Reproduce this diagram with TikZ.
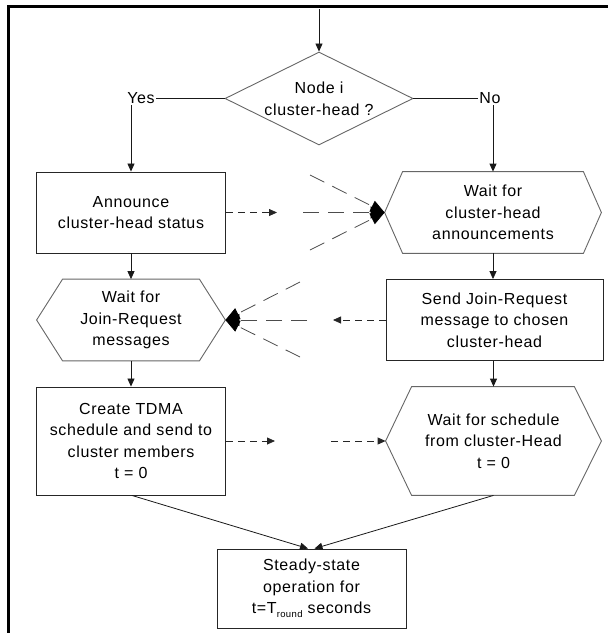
\documentclass[tikz,border=0pt]{standalone}
\usepackage{fontspec}
\setmainfont{Liberation Sans}[LetterSpace=4]
\usetikzlibrary{arrows.meta,calc,shapes.geometric}
\begin{document}
\begin{tikzpicture}[x=1pt,y=-1pt,
  font=\fontsize{16}{21.5}\selectfont,
  line width=0.8pt,
  tip/.style={-{Triangle[length=8pt,width=7pt]}},
  conn/.style={draw=black!90, tip},
  plain/.style={draw=black!90},
  box/.style={draw=black!85, line width=0.9pt, align=center, inner sep=0pt},
  hexnode/.style={align=center, inner sep=0pt},
  hexline/.style={draw=black!60, line width=0.9pt},
  dshort/.style={draw=black!85, dash pattern=on 7pt off 5pt, tip},
  dlong/.style={draw=black!70, dash pattern=on 16pt off 9pt, -{Triangle[length=14pt,width=12pt,color=black]}},
  label/.style={inner sep=1pt}]
\useasboundingbox (0,0) rectangle (608,633);
% frame
\draw[line width=3pt] (8,633) -- (8,6.2) -- (608,6.2);

% decision
\node[diamond, draw=black!60, line width=0.9pt, minimum width=188pt, minimum height=93pt, inner sep=0pt] (dec) at (319,98.5) {};
\node[align=center, inner sep=0pt] (dectext) at (319,99) {Node i\\cluster-head ?};
\node[label] (yes) at (141,98.5) {Yes};
\node[label] (no) at (490,98.5) {No};
\coordinate (top) at (319,9);

% boxes
\node[box, minimum width=189pt, minimum height=81pt] (ann) at (131,212.5) {Announce\\cluster-head status};
\node[hexnode, minimum width=216pt, minimum height=81pt] (hexA) at (493,212.5) {Wait for\\cluster-head\\announcements};
\node[hexnode, minimum width=188pt, minimum height=81pt] (hexB) at (131,320) {Wait for\\Join-Request\\messages};
\node[box, minimum width=217pt, minimum height=81pt] (send) at (494.5,320) {Send Join-Request\\message to chosen\\cluster-head};
\node[box, minimum width=189pt, minimum height=108pt] (create) at (131,441) {Create TDMA\\schedule and send to\\cluster members\\t = 0};
\node[hexnode, minimum width=215pt, minimum height=108pt] (hexC) at (493.5,441) {Wait for schedule\\from cluster-Head\\t = 0};
\node[box, minimum width=189pt, minimum height=79pt] (steady) at (311.5,588.5) {Steady-state\\operation for\\t=T\raisebox{-4pt}{\fontsize{9.5}{10}\selectfont round} seconds};

% hexagon outlines
\draw[hexline] (hexA.west) -- ([xshift=18]hexA.north west) -- ([xshift=-18]hexA.north east) -- (hexA.east) -- ([xshift=-18]hexA.south east) -- ([xshift=18]hexA.south west) -- cycle;
\draw[hexline] (hexB.west) -- ([xshift=26]hexB.north west) -- ([xshift=-26]hexB.north east) -- (hexB.east) -- ([xshift=-26]hexB.south east) -- ([xshift=26]hexB.south west) -- cycle;
\draw[hexline] (hexC.west) -- ([xshift=26]hexC.north west) -- ([xshift=-27]hexC.north east) -- (hexC.east) -- ([xshift=-27]hexC.south east) -- ([xshift=26]hexC.south west) -- cycle;

% solid connectors
\draw[conn] (top) -- (dec.north);
\draw[plain] (dec.west) -- (yes.east);
\draw[plain] (dec.east) -- (no.west);
\draw[conn] (yes.south -| ann.north) -- (ann.north);
\draw[conn] (no.south -| hexA.north) -- (hexA.north);
\draw[conn] (ann.south) -- (hexB.north);
\draw[conn] (hexA.south) -- (hexA.south |- send.north);
\draw[conn] (hexB.south) -- (create.north);
\draw[conn] (hexC.north |- send.south) -- (hexC.north);
\coordinate (in1) at ($(steady.north)+(-3.5,0)$);
\coordinate (in2) at ($(steady.north)+(3,0)$);
\draw[conn] ([xshift=1]create.south) -- (in1);
\draw[conn] (hexC.south) -- (in2);

% dashed: announce -> wait for announcements
\coordinate (m1) at (277,212.5);
\coordinate (m2) at (303,212.5);
\coordinate (r1) at (310,175);
\coordinate (r2) at (310,250);
\draw[dshort] (ann.east) -- (m1);
\draw[dlong] (m2) -- (hexA.west);
\draw[dlong] (r1) -- (hexA.west);
\draw[dlong] (r2) -- (hexA.west);

% dashed: send join request -> wait for join request
\coordinate (m3) at (333,320);
\coordinate (m4) at (307,320);
\coordinate (r3) at (300,282);
\coordinate (r4) at (300,357);
\draw[dshort] (send.west) -- (m3);
\draw[dlong] (m4) -- (hexB.east);
\draw[dlong] (r3) -- (hexB.east);
\draw[dlong] (r4) -- (hexB.east);

% dashed: create -> wait for schedule
\coordinate (m5) at (275,441);
\coordinate (m6) at (331,441);
\draw[dshort] (create.east) -- (m5);
\draw[dshort] (m6) -- (hexC.west);
\end{tikzpicture}
\end{document}
